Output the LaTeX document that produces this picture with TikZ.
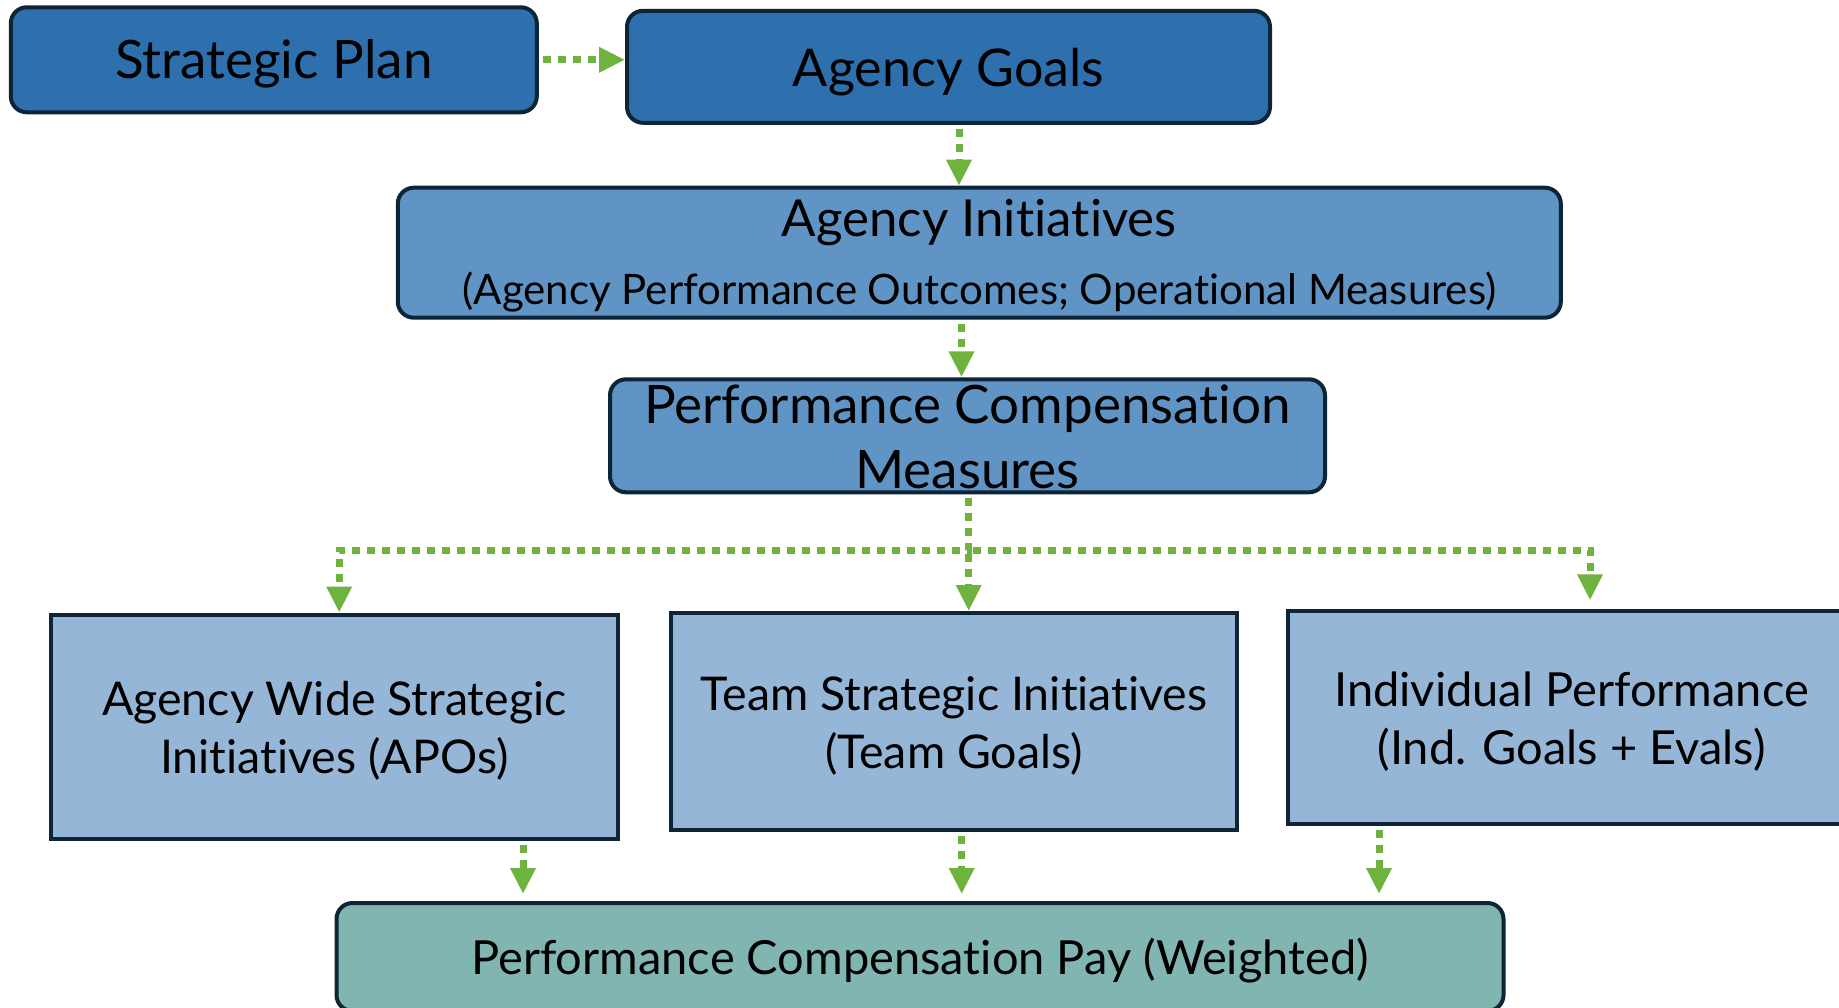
\documentclass[tikz,border=0pt]{standalone}
\usepackage{fontspec}
\setmainfont{Lato}[Ligatures={NoCommon,NoRequired,NoContextual}]
\usetikzlibrary{arrows.meta}
\definecolor{deepblue}{HTML}{2E70AE}
\definecolor{midblue}{HTML}{6094C4}
\definecolor{paleblue}{HTML}{95B6D6}
\definecolor{tealbox}{HTML}{80B5B1}
\definecolor{edgeline}{HTML}{0D2536}
\definecolor{flowgreen}{HTML}{6FB33F}
\newcommand{\fs}[2]{\fontsize{#1}{#2}\selectfont}
% lower the text a little while keeping its reported size
\newcommand{\sinktext}[2][4pt]{\raisebox{-#1}[\height][\depth]{#2}}
\begin{document}
\begin{tikzpicture}[x=1pt,y=-1pt,
  box/.style={draw=edgeline,line width=4pt,inner sep=0pt,align=center,text=black},
  roundbox/.style={box,rounded corners=16pt},
  flow/.style={draw=flowgreen,line width=7pt,dash pattern=on 8pt off 7pt,
    -{Triangle[width=24pt,length=26pt]},shorten <=4pt}]
\clip (0,0) rectangle (1839,1008);
\fill[white] (0,0) rectangle (1839,1008);

% top row
\node[roundbox,fill=deepblue,minimum width=526pt,minimum height=105pt,font=\fs{53}{63}]
  (sp) at (273.8,59.8) {\sinktext{Strategic Plan}};
\node[roundbox,fill=deepblue,minimum width=643pt,minimum height=112pt,font=\fs{52}{62}]
  (ag) at (948.5,66.8) {\sinktext[5pt]{Agency Goals}};

% initiatives and measures
\node[roundbox,fill=midblue,minimum width=1163pt,minimum height=130pt]
  (ai) at (979.3,252.7) {\sinktext[3pt]{\fs{51}{60}Agency Initiatives}\\[25pt]
  \sinktext[3pt]{\fs{42}{48}(Agency Performance Outcomes; Operational Measures)}};
\node[roundbox,fill=midblue,minimum width=715pt,minimum height=113pt,font=\fs{53}{63}]
  (pcm) at (967.5,435.8) {Performance Compensation\\\sinktext[2pt]{Measures}};

% components
\node[box,fill=paleblue,minimum width=567pt,minimum height=224pt,font=\fs{46.5}{58}]
  (apo) at (334.2,726.5) {\sinktext{Agency Wide Strategic}\\\sinktext{Initiatives (APOs)}};
\node[box,fill=paleblue,minimum width=566pt,minimum height=217pt,font=\fs{46.5}{58}]
  (team) at (954,721.5) {\sinktext{Team Strategic Initiatives}\\\sinktext{(Team Goals)}};
\node[box,fill=paleblue,minimum width=567pt,minimum height=213pt,font=\fs{47}{58}]
  (ind) at (1571.5,717.8) {\sinktext{Individual Performance}\\\sinktext{(Ind. Goals + Evals)}};

% result
\node[roundbox,fill=tealbox,minimum width=1167pt,minimum height=108pt,font=\fs{47}{56}]
  (pay) at (920,957) {\sinktext{Performance Compensation Pay (Weighted)}};

% connectors
\draw[flow] (sp.east) -- (sp.east -| ag.west);
\draw[flow] ([xshift=10.5pt]ag.south) -- ([xshift=10.5pt]ag.south |- ai.north);
\draw[flow] ([xshift=-6pt]pcm.north |- ai.south) -- ([xshift=-6pt]pcm.north);

\coordinate (bus) at (968.7,550);
\draw[flow] ([xshift=1.2pt]pcm.south) -- (bus) -| ([xshift=5pt]apo.north);
\draw[flow] (bus) -- ([xshift=14.7pt]team.north);
\draw[flow,shorten >=9pt] (bus) -| ([xshift=18.5pt]ind.north);

\draw[flow,shorten >=7pt] ([xshift=188.8pt]apo.south) -- ([xshift=188.8pt]apo.south |- pay.north);
\draw[flow,shorten >=7pt] ([xshift=7.7pt]team.south) -- ([xshift=7.7pt]team.south |- pay.north);
\draw[flow,shorten >=7pt] ([xshift=-192.5pt]ind.south) -- ([xshift=-192.5pt]ind.south |- pay.north);
\end{tikzpicture}
\end{document}
